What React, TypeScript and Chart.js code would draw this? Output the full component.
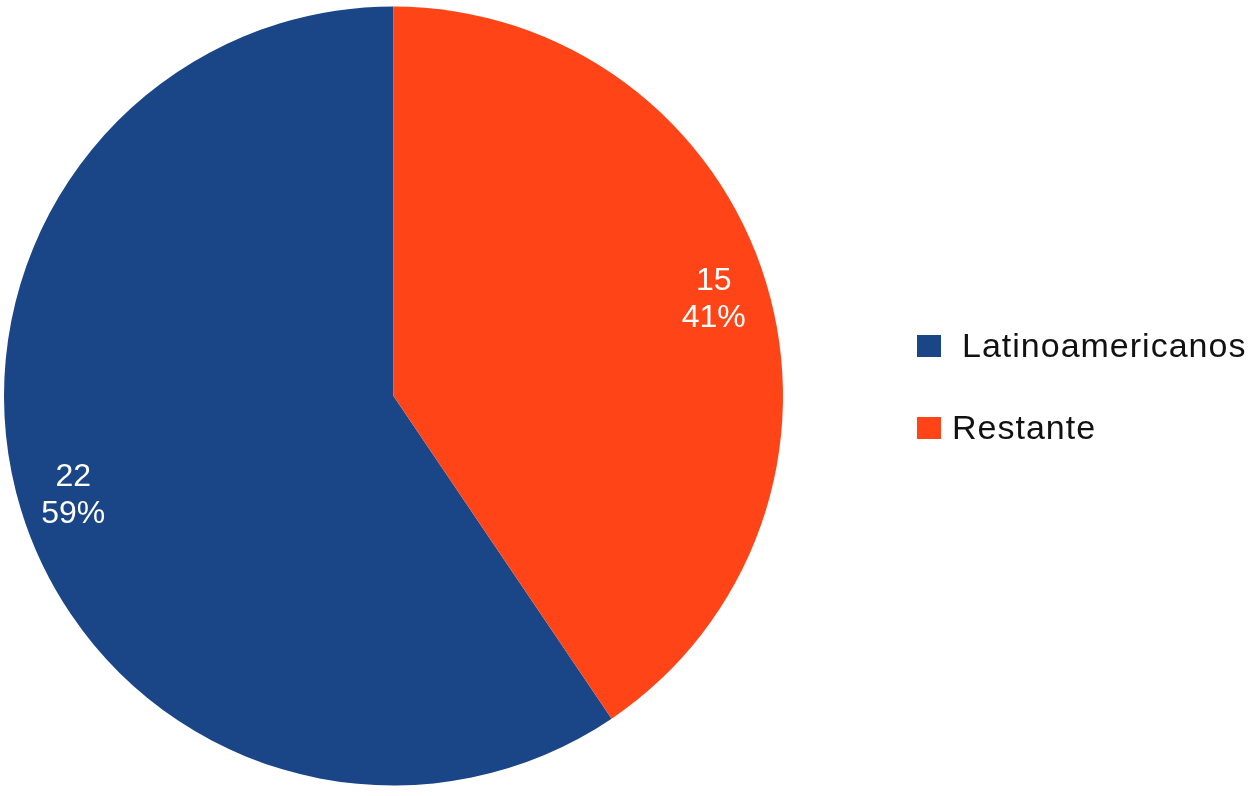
import React, { useEffect, useRef } from "react";
import { Chart, registerables } from "chart.js";

Chart.register(...registerables);

const categories = ["Latinoamericanos", "Restante"];
const values = [22, 15];
const colors = ["#1a4687", "#ff4517"];

const FONT = '"Liberation Sans", Arial, sans-serif';

const sliceLabels = {
  id: "sliceLabels",
  afterDatasetsDraw(chart: any) {
    const ctx = chart.ctx;
    const meta = chart.getDatasetMeta(0);
    const data = chart.data.datasets[0].data as number[];
    const total = data.reduce((a, b) => a + b, 0);
    ctx.save();
    ctx.fillStyle = "#ffffff";
    ctx.font = `32px ${FONT}`;
    ctx.textAlign = "center";
    ctx.textBaseline = "alphabetic";
    meta.data.forEach((arc: any, i: number) => {
      const p = arc.getProps(["x", "y", "startAngle", "endAngle", "outerRadius"], true);
      const mid = (p.startAngle + p.endAngle) / 2;
      const r = p.outerRadius * 0.86;
      const cx = p.x + Math.cos(mid) * r;
      const cy = p.y + Math.sin(mid) * r;
      const pct = Math.round((data[i] / total) * 100) + "%";
      ctx.fillText(String(data[i]), cx, cy - 8);
      ctx.fillText(pct, cx, cy + 29);
    });
    ctx.restore();
  },
};

const customLegend = {
  id: "customLegend",
  afterDraw(chart: any) {
    const ctx = chart.ctx;
    const labels = chart.data.labels as string[];
    const bg = chart.data.datasets[0].backgroundColor as string[];
    const rows = [
      { box: [917, 335], text: [962, 357] },
      { box: [917, 417], text: [952, 439] },
    ];
    ctx.save();
    ctx.textAlign = "left";
    ctx.textBaseline = "alphabetic";
    (ctx as any).letterSpacing = "1px";
    labels.forEach((lab, i) => {
      const row = rows[i];
      ctx.fillStyle = bg[i];
      ctx.fillRect(row.box[0], row.box[1], 24, 22);
      ctx.fillStyle = "#111111";
      ctx.font = `34px ${FONT}`;
      ctx.fillText(lab, row.text[0], row.text[1]);
    });
    ctx.restore();
  },
};

export default function App() {
  const ref = useRef<HTMLCanvasElement | null>(null);
  useEffect(() => {
    if (!ref.current) return;
    const chart = new Chart(ref.current, {
      type: "pie",
      data: {
        labels: categories,
        datasets: [
          {
            data: values,
            backgroundColor: colors,
            borderWidth: 0,
          },
        ],
      },
      options: {
        responsive: false,
        animation: false,
        rotation: (values[1] / (values[0] + values[1])) * 360,
        layout: { padding: { left: 4, top: 6, right: 474, bottom: 10 } },
        plugins: {
          legend: { display: false },
          tooltip: { enabled: false },
        },
      },
      plugins: [sliceLabels, customLegend],
    });
    return () => chart.destroy();
  }, []);
  return (
    <div style={{ position: "absolute", left: 0, top: 0, width: 1257, height: 796, background: "#fff" }}>
      <canvas ref={ref} width={1257} height={796} />
    </div>
  );
}
